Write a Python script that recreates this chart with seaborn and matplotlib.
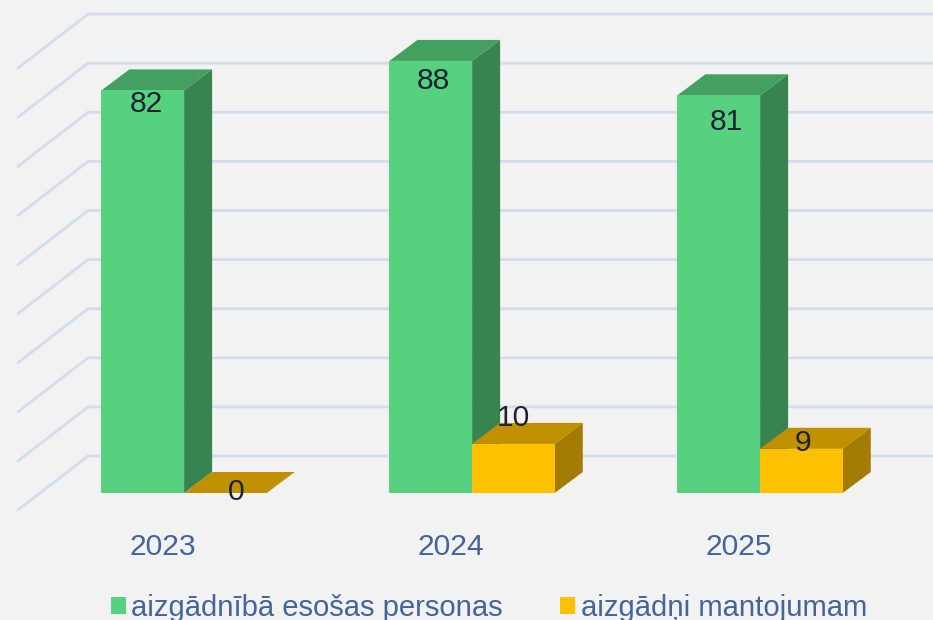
import matplotlib
matplotlib.use("Agg")
import matplotlib.pyplot as plt
from matplotlib.patches import Polygon, Rectangle
import pandas as pd
import seaborn as sns

years = ["2023", "2024", "2025"]
persons = [82, 88, 81]
heirs = [0, 10, 9]
series_names = ["aizgādnībā esošas personas", "aizgādņi mantojumam"]
wall_levels = [0, 10, 20, 30, 40, 50, 60, 70, 80, 90]

BG = "#F2F2F2"
FACE = ["#57D17F", "#FFC000"]
SIDE = ["#388450", "#A37B00"]
TOP = ["#43A060", "#C09000"]
GRID = "#D2DDEB"
AXIS_TEXT = "#44659A"
VALUE_TEXT = "#1A2233"

W, H = 933, 620
PX_PER_CAT = 288.0
PX_PER_UNIT = 4.91
X0_PX, Y0_PX = 184.1, 493.0     # category 0 centre / value-0 line of the bars


def dx(px):
    return px / PX_PER_CAT


def dy(px):
    return px / PX_PER_UNIT


sns.set_theme(style="white")
plt.rcParams["font.family"] = ["Liberation Sans", "DejaVu Sans"]

fig = plt.figure(figsize=(W / 100, H / 100), dpi=100, facecolor=BG)
ax = fig.add_axes([0, (H - Y0_PX) / H, 1, Y0_PX / H], facecolor=BG)

df = pd.DataFrame({
    "year": years * 2,
    "series": [series_names[0]] * 3 + [series_names[1]] * 3,
    "value": persons + heirs,
})
sns.barplot(data=df, x="year", y="value", hue="series", order=years,
            hue_order=series_names, palette=FACE, width=0.574, gap=0,
            saturation=1, legend=False, ax=ax, linewidth=0, zorder=4)

ax.set_xlim(-X0_PX / PX_PER_CAT, (W - X0_PX) / PX_PER_CAT)
ax.set_ylim(0, dy(Y0_PX))
for s in ax.spines.values():
    s.set_visible(False)
ax.set_xlabel("")
ax.set_ylabel("")
ax.set_yticks([])
ax.grid(False)

# wall / floor grid lines
wall_back_x = ax.get_xlim()[0] + dx(88)
wall_front_x = ax.get_xlim()[0] + dx(18)
wall_end_x = ax.get_xlim()[1]
back_off = dy(Y0_PX - 456)
front_off = dy(Y0_PX - 510)
for lv in wall_levels:
    ax.plot([wall_front_x, wall_back_x, wall_end_x],
            [lv + front_off, lv + back_off, lv + back_off],
            color=GRID, lw=2.0, clip_on=False, zorder=1,
            solid_joinstyle="round", solid_capstyle="round")

# oblique depth faces, from the bar geometry
DEPTH_X, DEPTH_Y = dx(28), dy(21)
for i, container in enumerate(ax.containers):
    for bar in container:
        x0, x1 = bar.get_x(), bar.get_x() + bar.get_width()
        top = bar.get_height()
        ax.add_patch(Polygon([(x1, 0), (x1 + DEPTH_X, DEPTH_Y),
                              (x1 + DEPTH_X, top + DEPTH_Y), (x1, top)],
                             closed=True, fc=SIDE[i], ec="none", zorder=2 + i * 0.1))
        ax.add_patch(Polygon([(x0, top), (x1, top),
                              (x1 + DEPTH_X, top + DEPTH_Y), (x0 + DEPTH_X, top + DEPTH_Y)],
                             closed=True, fc=TOP[i], ec="none", zorder=2.05 + i * 0.1))

# value labels
offsets = [[(3.5, -14), (2.5, -20), (7.5, -27)],
           [(10.5, 1), (0, 26), (2, 6)]]
for i, container in enumerate(ax.containers):
    for j, bar in enumerate(container):
        ox, oy = offsets[i][j]
        ax.annotate(f"{bar.get_height():.0f}",
                    (bar.get_x() + bar.get_width() / 2, bar.get_height()),
                    xytext=(ox * 0.72, oy * 0.72), textcoords="offset points",
                    ha="center", va="center", fontsize=21.6, color=VALUE_TEXT,
                    zorder=6, annotation_clip=False)

# category labels
ax.set_xticks([k - dx(21.5) for k in range(len(years))], labels=years)
ax.tick_params(axis="x", length=0, pad=28.5, labelsize=21.6, labelcolor=AXIS_TEXT)

# legend
handles = [Rectangle((0, 0), 1, 1, fc=c, ec="none") for c in FACE]
leg = ax.legend(handles, series_names, loc="center", ncol=2,
                bbox_to_anchor=(489 / W, (H - 607.5) / H),
                bbox_transform=fig.transFigure, frameon=False, fontsize=21.1,
                labelcolor=AXIS_TEXT, borderpad=0, borderaxespad=0,
                handlelength=0.51, handleheight=0.51, handletextpad=0.2,
                columnspacing=1.95)

fig.savefig("out.png", dpi=100, facecolor=BG)
